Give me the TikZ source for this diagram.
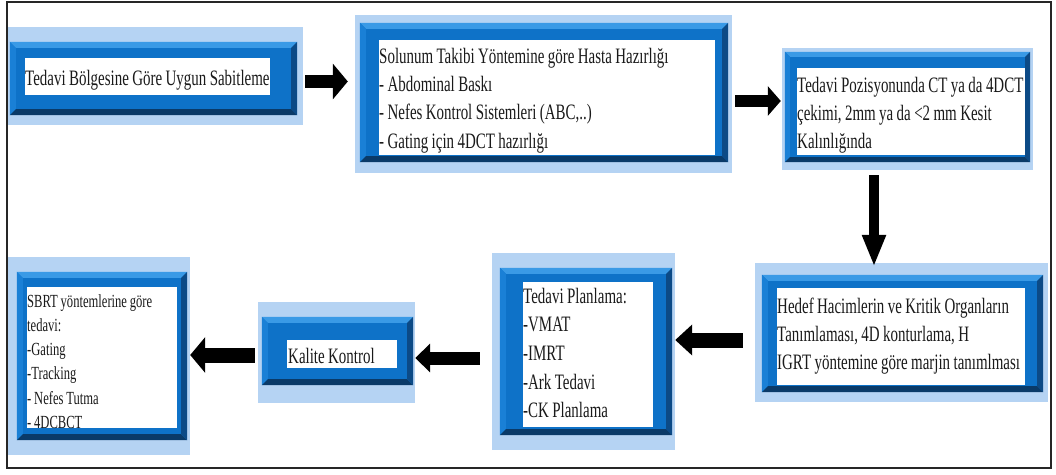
\documentclass[tikz,border=0pt]{standalone}
\usepackage{fontspec}
\setmainfont{Liberation Serif}
\newfontfamily\cond[FakeStretch=0.68]{Liberation Serif}
\newcommand\condfont{\cond\fontsize{22}{28.4}\selectfont}
\newcommand\condfontb{\cond\fontsize{22}{28.7}\selectfont}
\newcommand\condsmall{\cond\fontsize{18.5}{24.3}\selectfont}
\newcommand\tight{\spaceskip 3.4pt plus 1pt minus 0.5pt\xspaceskip 3.8pt plus 1pt minus 0.5pt\relax}
\newcommand\tights{\spaceskip 2.8pt plus 1pt minus 0.5pt\xspaceskip 3.2pt plus 1pt minus 0.5pt\relax}
\usetikzlibrary{arrows.meta,calc,fit}
\definecolor{mainblue}{HTML}{0E72C8}
\definecolor{glowblue}{HTML}{B5D3F3}
\definecolor{bevlight}{HTML}{3A9AE6}
\definecolor{bevleft}{HTML}{1A80D6}
\definecolor{bevdark}{HTML}{0A3A68}
\definecolor{bevright}{HTML}{0C4A86}
\definecolor{txtcol}{HTML}{1A1A1A}
\tikzset{
  glowbox/.style={fill=glowblue, draw=none, inner sep=0pt},
  bluebox/.style={fill=mainblue, draw=none, inner sep=0pt},
  whitebox/.style={fill=white, draw=none, inner sep=0pt},
  txt/.style={inner sep=0pt, anchor=base west, text width=420pt, text=txtcol, font=\condfont},
  smalltxt/.style={txt, font=\condsmall},
  arr/.style n args={3}{draw=black, line width=#1pt, -{Triangle[width=#2pt,length=#3pt]}},
}
\newcommand\bevelbox[2]{%
  \fill[bevlight] (#1.north west) -- (#1.north east) -- ($(#1.north east)+(-#2,#2)$) -- ($(#1.north west)+(#2,#2)$) -- cycle;
  \fill[bevleft] (#1.north west) -- ($(#1.north west)+(#2,#2)$) -- ($(#1.south west)+(#2,-#2)$) -- (#1.south west) -- cycle;
  \fill[bevdark] (#1.south west) -- ($(#1.south west)+(#2,-#2)$) -- ($(#1.south east)+(-#2,-#2)$) -- (#1.south east) -- cycle;
  \fill[bevright] (#1.north east) -- (#1.south east) -- ($(#1.south east)+(-#2,-#2)$) -- ($(#1.north east)+(-#2,#2)$) -- cycle;
}
\begin{document}
\begin{tikzpicture}[x=1pt,y=-1pt]
\useasboundingbox (0,0) rectangle (1056,474);
\fill[white] (0,0) rectangle (1056,474);
\draw[line width=1.6pt, black!85] (7,2) rectangle (1051,468);

% Box 1
\node[glowbox, fit={(8,27) (303,125)}] (g1) {};
\node[bluebox, fit={(10,42) (297,115)}] (b1) {};
\bevelbox{b1}{6}
\node[whitebox, fit={(25,58) (270,95)}] (w1) {};
\begin{scope}
  \clip (w1.north west) rectangle (w1.south east);
  \node[txt] (t1) at (25,85) {\tight Tedavi Bölgesine Göre Uygun Sabitleme};
\end{scope}

% Box 2
\node[glowbox, fit={(355,15) (732,173)}] (g2) {};
\node[bluebox, fit={(360,23) (728,162)}] (b2) {};
\bevelbox{b2}{6}
\node[whitebox, fit={(379,40) (715,155)}] (w2) {};
\begin{scope}
  \clip (w2.north west) rectangle (w2.south east);
  \node[txt] (t2) at (379,63) {\tight Solunum Takibi Yöntemine göre Hasta Hazırlığı\\- Abdominal Baskı\\- Nefes Kontrol Sistemleri (ABC,..)\\- Gating için 4DCT hazırlığı};
\end{scope}

% Box 3
\node[glowbox, fit={(782,48) (1033,170)}] (g3) {};
\node[bluebox, fit={(785,52) (1030,162)}] (b3) {};
\bevelbox{b3}{5}
\node[whitebox, fit={(797,68) (1025,155)}] (w3) {};
\begin{scope}
  \clip (w3.north west) rectangle (w3.south east);
  \node[txt] (t3) at (797,92) {\tight Tedavi Pozisyonunda CT ya da 4DCT\\çekimi, 2mm ya da <2 mm Kesit\\Kalınlığında};
\end{scope}

% Box 4
\node[glowbox, fit={(755,263) (1048,402)}] (g4) {};
\node[bluebox, fit={(762,275) (1043,392)}] (b4) {};
\bevelbox{b4}{6}
\node[whitebox, fit={(777,288) (1025,385)}] (w4) {};
\begin{scope}
  \clip (w4.north west) rectangle (w4.south east);
  \node[txt] (t4) at (777,313) {\tight Hedef Hacimlerin ve Kritik Organların\\Tanımlaması, 4D konturlama, H\\IGRT yöntemine göre marjin tanımlması};
\end{scope}

% Box 5
\node[glowbox, fit={(492,253) (675,450)}] (g5) {};
\node[bluebox, fit={(500,268) (672,435)}] (b5) {};
\bevelbox{b5}{6}
\node[whitebox, fit={(523,282) (653,427)}] (w5) {};
\begin{scope}
  \clip (w5.north west) rectangle (w5.south east);
  \node[txt, font=\condfontb] (t5) at (523,303) {\tight Tedavi Planlama:\\-VMAT\\-IMRT\\-Ark Tedavi\\-CK Planlama};
\end{scope}

% Box 6
\node[glowbox, fit={(258,302) (415,403)}] (g6) {};
\node[bluebox, fit={(262,317) (413,385)}] (b6) {};
\bevelbox{b6}{6}
\node[whitebox, fit={(287,340) (397,368)}] (w6) {};
\begin{scope}
  \clip (w6.north west) rectangle (w6.south east);
  \node[txt] (t6) at (288,363) {\tight Kalite Kontrol};
\end{scope}

% Box 7
\node[glowbox, fit={(8,257) (190,455)}] (g7) {};
\node[bluebox, fit={(17,272) (187,440)}] (b7) {};
\bevelbox{b7}{6}
\node[whitebox, fit={(27,287) (177,428)}] (w7) {};
\begin{scope}
  \clip (w7.north west) rectangle (w7.south east);
  \node[smalltxt] (t7) at (27,307) {\tights SBRT yöntemlerine göre\\tedavi:\\-Gating\\-Tracking\\- Nefes Tutma\\- 4DCBCT};
\end{scope}

% Arrows
\draw[arr={13}{35}{15}] ($(b1.east)+(8,3)$) -- ($(b2.west |- b1.east)+(-12,3)$);
\draw[arr={12}{29}{13}] ($(b2.east)+(7,8.5)$) -- ($(b3.west |- b2.east)+(-4,8.5)$);
\draw[arr={10}{22}{32}] ($(b3.south)+(-33.5,13)$) -- ($(b3.south |- b4.north)+(-33.5,-8)$);
\draw[arr={15}{30}{17}] ($(b4.west)+(-19,6.5)$) -- ($(b5.east |- b4.west)+(3,6.5)$);
\draw[arr={13}{28}{15}] ($(b5.west)+(-20,6.5)$) -- ($(b6.east |- b5.west)+(2,6.5)$);
\draw[arr={15}{35}{15}] ($(b6.west)+(-7,4)$) -- ($(b7.east |- b6.west)+(3,4)$);
\end{tikzpicture}
\end{document}
